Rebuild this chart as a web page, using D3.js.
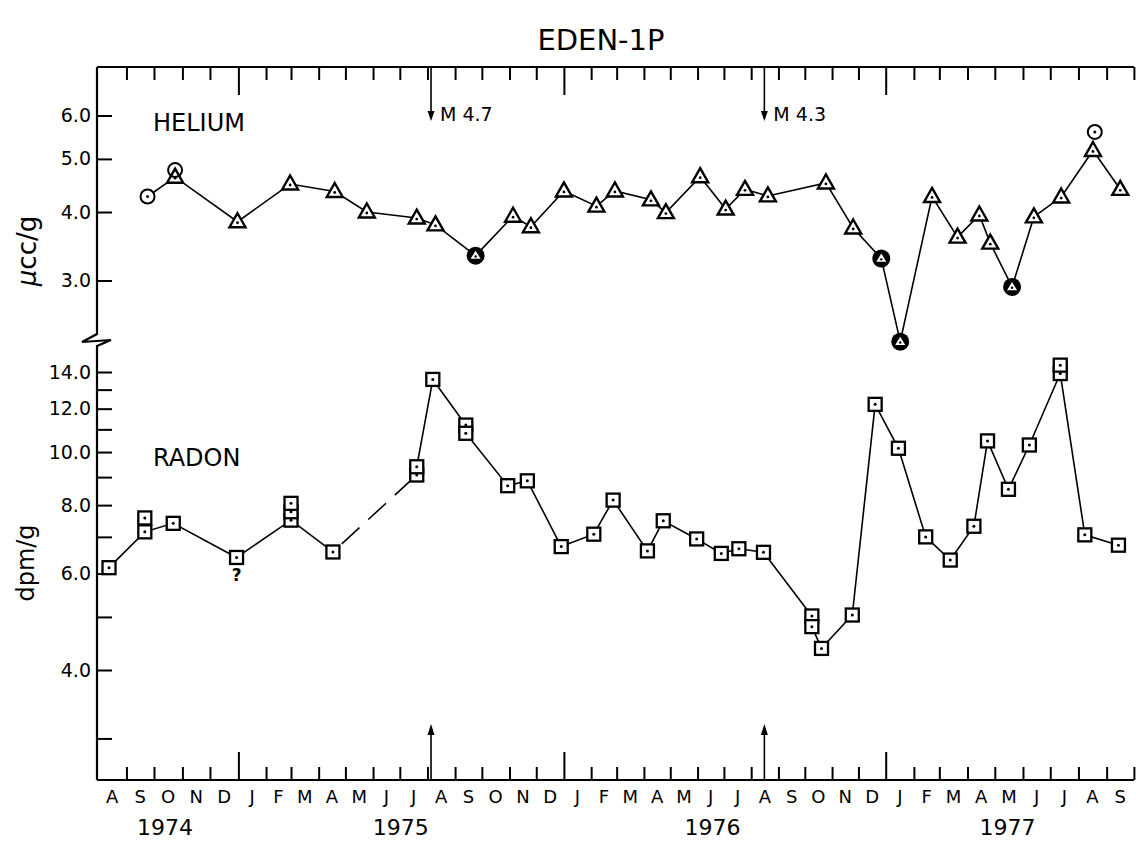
<!DOCTYPE html>
<html><head><meta charset="utf-8">
<script src="https://cdn.jsdelivr.net/npm/d3@7"></script>
<style>
body{margin:0;background:#fff}
svg{display:block}
text{font-family:"DejaVu Sans","Liberation Sans",sans-serif;fill:#000}
</style>
</head><body>
<svg id="c" width="1136" height="842"></svg>
<script>
// ---------------- data ----------------
const monthLetters = ["A","S","O","N","D","J","F","M","A","M","J","J","A","S","O","N","D","J","F","M","A","M","J","J","A","S","O","N","D","J","F","M","A","M","J","J","A","S"];
const yearLabels = ["1974","1975","1976","1977"];
const yearLabelDates = ["1974-10-13","1975-07-02","1976-06-18","1977-05-15"];
const heliumTicks = [3,4,5,6];
const radonTicks = [4,6,8,10,12,14];
const radonMinorTicks = [3,5,7,9,11,13];

const heliumDates = ["1974-09-24","1974-10-24","1974-12-31","1975-02-28","1975-04-19","1975-05-25","1975-07-20","1975-08-10","1975-09-24","1975-11-05","1975-11-25","1976-01-01","1976-02-07","1976-02-28","1976-04-09","1976-04-26","1976-06-04","1976-07-03","1976-07-25","1976-08-20","1976-10-25","1976-11-25","1976-12-27","1977-01-17","1977-02-21","1977-03-21","1977-04-14","1977-04-26","1977-05-20","1977-06-13","1977-07-13","1977-08-17","1977-09-16"];
const heliumValues = [4.27,4.63,3.84,4.50,4.36,4.00,3.90,3.79,3.33,3.93,3.76,4.37,4.10,4.37,4.21,3.99,4.64,4.05,4.40,4.28,4.52,3.74,3.29,2.32,4.27,3.60,3.95,3.51,2.92,3.92,4.26,5.18,4.40];
// c = open circle with dot, t = triangle, f = filled circle with triangle
const heliumMarkers = ["c","t","t","t","t","t","t","t","f","t","t","t","t","t","t","t","t","t","t","t","t","t","f","f","t","t","t","t","f","t","t","t","t"];
const heliumCircleDates = ["1974-10-24","1977-08-19"];
const heliumCircleValues = [4.77,5.60];

const radonDates = ["1974-08-13","1974-09-21","1974-09-21","1974-10-22","1974-12-30","1975-03-01","1975-03-01","1975-03-01","1975-04-17","1975-07-20","1975-07-20","1975-08-07","1975-09-13","1975-09-13","1975-10-30","1975-11-21","1975-12-29","1976-02-04","1976-02-26","1976-04-05","1976-04-23","1976-05-31","1976-06-28","1976-07-18","1976-08-15","1976-10-09","1976-10-09","1976-10-20","1976-11-24","1976-12-20","1977-01-15","1977-02-14","1977-03-13","1977-04-08","1977-04-23","1977-05-16","1977-06-08","1977-07-12","1977-07-12","1977-08-08","1977-09-14"];
const radonValues = [6.15,7.15,7.58,7.41,6.42,7.51,7.78,8.06,6.57,9.08,9.40,13.57,11.20,10.82,8.68,8.86,6.72,7.08,8.17,6.60,7.49,6.94,6.53,6.66,6.56,5.02,4.80,4.38,5.04,12.22,10.16,7.00,6.35,7.32,10.48,8.55,10.30,13.91,14.41,7.06,6.76];
const radonSolidA = [0,1,3,4,5,8];
const radonDashed = [8,9];
const radonSolidB = [10,11,12,13,14,15,16,17,18,19,20,21,22,23,24,25,26,27,28,29,30,31,32,33,34,35,36,37,39,40];
const radonQueryIndex = 4;

const quakeDates = ["1975-08-05","1976-08-16"];
const quakeLabels = ["M 4.7","M 4.3"];

// ---------------- layout ----------------
const parse = d3.timeParse("%Y-%m-%d");
const svg = d3.select("#c");
const AX = 97, TOP = 67, BOT = 780, BREAK = 340;

const x = d3.scaleTime()
  .domain([new Date(1974,7,1), new Date(1975,0,1), new Date(1976,0,1), new Date(1977,0,1), new Date(1977,9,1)])
  .range([98, 238.4, 563.9, 885.7, 1133.9]);
const yHe = d3.scaleLog().domain([3,6]).range([280.5,115.5]);
const yRn = d3.scaleLog().domain([4,14]).range([670,372]);

// title
svg.append("text").attr("x",601).attr("y",50).attr("text-anchor","middle")
  .style("font-size","29px").text("EDEN-1P");

// month boundaries
const bounds = d3.timeMonth.range(new Date(1974,7,1), new Date(1977,9,2));
const mids = d3.pairs(bounds).map(([a,b]) => new Date((+a + +b)/2));
const xEnd = x(bounds[bounds.length-1]);

// bottom axis
const gb = svg.append("g").attr("transform",`translate(0,${BOT})`)
  .call(d3.axisBottom(x).tickValues(bounds.slice(1)).tickSize(-13).tickFormat(""));
gb.select(".domain").remove();
gb.selectAll(".tick line").attr("stroke","#000").attr("stroke-width",2)
  .attr("y2", d => (d.getMonth()===0 ? -28 : -13));
svg.append("line").attr("x1",AX).attr("x2",xEnd).attr("y1",BOT).attr("y2",BOT)
  .attr("stroke","#000").attr("stroke-width",2.2);

// top axis
const gt = svg.append("g").attr("transform",`translate(0,${TOP})`)
  .call(d3.axisTop(x).tickValues(bounds.slice(1)).tickSize(-13).tickFormat(""));
gt.select(".domain").remove();
gt.selectAll(".tick line").attr("stroke","#000").attr("stroke-width",2)
  .attr("y2", d => (d.getMonth()===0 ? 28 : 13));
svg.append("line").attr("x1",AX).attr("x2",xEnd).attr("y1",TOP).attr("y2",TOP)
  .attr("stroke","#000").attr("stroke-width",2.2);

// month letters
svg.append("g").selectAll("text").data(mids).join("text")
  .attr("x", d => x(d)).attr("y", 803).attr("text-anchor","middle")
  .style("font-size","18px").text((d,i) => monthLetters[i]);
// year labels
svg.append("g").selectAll("text").data(yearLabelDates).join("text")
  .attr("x", d => x(parse(d))).attr("y", 835).attr("text-anchor","middle")
  .style("font-size","22px").text((d,i) => yearLabels[i]);

// left axes
const fmt = d3.format(".1f");
const gh = svg.append("g").attr("transform",`translate(${AX},0)`)
  .call(d3.axisLeft(yHe).tickValues(heliumTicks).tickSize(-15).tickPadding(6).tickFormat(fmt));
gh.select(".domain").remove();
const gr = svg.append("g").attr("transform",`translate(${AX},0)`)
  .call(d3.axisLeft(yRn).tickValues(radonTicks).tickSize(-15).tickPadding(6).tickFormat(fmt));
gr.select(".domain").remove();
const grm = svg.append("g").attr("transform",`translate(${AX},0)`)
  .call(d3.axisLeft(yRn).tickValues(radonMinorTicks).tickSize(-15).tickFormat(""));
grm.select(".domain").remove();
[gh,gr,grm].forEach(g => {
  g.selectAll(".tick line").attr("stroke","#000").attr("stroke-width",2);
  g.selectAll(".tick text").style("font-size","19px").style("font-family","DejaVu Sans, sans-serif");
});

// left axis line with break
svg.append("path")
  .attr("d",`M${AX},${TOP}V${BREAK-6}L${AX-15},${BREAK+2}L${AX+14},${BREAK}L${AX},${BREAK+6}V${BOT}`)
  .attr("fill","none").attr("stroke","#000").attr("stroke-width",2.2).attr("stroke-linejoin","miter");

// axis titles
svg.append("text").attr("transform","translate(27,251) rotate(-90)")
  .attr("text-anchor","middle").attr("dominant-baseline","central").style("font-size","26px")
  .html('<tspan font-style="italic">μ</tspan>cc/g');
svg.append("text").attr("transform","translate(26,563) rotate(-90)")
  .attr("text-anchor","middle").attr("dominant-baseline","central").style("font-size","24px")
  .text("dpm/g");

// series labels
svg.append("text").attr("x",153).attr("y",131).style("font-size","24px").text("HELIUM");
svg.append("text").attr("x",153).attr("y",466).style("font-size","24px").text("RADON");

// earthquake arrows
quakeDates.forEach((d,i) => {
  const qx = x(parse(d));
  svg.append("line").attr("x1",qx).attr("x2",qx).attr("y1",TOP).attr("y2",118)
    .attr("stroke","#000").attr("stroke-width",1.6);
  svg.append("path").attr("d",`M${qx-3.5},111L${qx+3.5},111L${qx},121Z`).attr("fill","#000");
  svg.append("text").attr("x",qx+9).attr("y",121).style("font-size","19px").text(quakeLabels[i]);
  svg.append("line").attr("x1",qx).attr("x2",qx).attr("y1",BOT).attr("y2",728)
    .attr("stroke","#000").attr("stroke-width",1.6);
  svg.append("path").attr("d",`M${qx-3.5},735L${qx+3.5},735L${qx},724Z`).attr("fill","#000");
});

// helium line
const he = heliumDates.map((d,i) => ({d:parse(d), v:heliumValues[i], m:heliumMarkers[i]}));
const lineHe = d3.line().x(p => x(p.d)).y(p => yHe(p.v));
svg.append("path").attr("d", lineHe(he)).attr("fill","none").attr("stroke","#000").attr("stroke-width",1.6);

// radon lines
const rn = radonDates.map((d,i) => ({d:parse(d), v:radonValues[i]}));
const lineRn = d3.line().x(p => x(p.d)).y(p => yRn(p.v));
svg.append("path").attr("d", lineRn(radonSolidA.map(i => rn[i]))).attr("fill","none").attr("stroke","#000").attr("stroke-width",1.6);
svg.append("path").attr("d", lineRn(radonDashed.map(i => rn[i]))).attr("fill","none").attr("stroke","#000").attr("stroke-width",1.6).attr("stroke-dasharray","24,12").attr("stroke-dashoffset",-12);
svg.append("path").attr("d", lineRn(radonSolidB.map(i => rn[i]))).attr("fill","none").attr("stroke","#000").attr("stroke-width",1.6);

// helium markers
const triPath = "M0,-8.5L8,5.5L-8,5.5Z";
const hm = svg.append("g");
he.forEach(p => {
  const g = hm.append("g").attr("transform",`translate(${x(p.d)},${yHe(p.v)})`);
  if (p.m === "t") {
    g.append("path").attr("d",triPath).attr("fill","#fff").attr("stroke","#000").attr("stroke-width",2.4).attr("stroke-linejoin","miter");
    g.append("circle").attr("cy",1).attr("r",1.4).attr("fill","#000");
  } else if (p.m === "c") {
    g.append("circle").attr("r",7).attr("fill","#fff").attr("stroke","#000").attr("stroke-width",2);
    g.append("circle").attr("r",1.5).attr("fill","#000");
  } else {
    g.append("circle").attr("r",9).attr("fill","#000");
    g.append("path").attr("d","M0,-5L5,3.2L-5,3.2Z").attr("fill","#fff");
    g.append("circle").attr("cy",0.8).attr("r",1.2).attr("fill","#000");
  }
});
heliumCircleDates.forEach((d,i) => {
  const g = hm.append("g").attr("transform",`translate(${x(parse(d))},${yHe(heliumCircleValues[i])})`);
  g.append("circle").attr("r",7).attr("fill","none").attr("stroke","#000").attr("stroke-width",2);
  g.append("circle").attr("r",1.5).attr("fill","#000");
});

// radon markers
const rm = svg.append("g");
rn.forEach(p => {
  const g = rm.append("g").attr("transform",`translate(${x(p.d)},${yRn(p.v)})`);
  g.append("rect").attr("x",-6.5).attr("y",-6.5).attr("width",13).attr("height",13)
    .attr("fill","#fff").attr("stroke","#000").attr("stroke-width",2.3);
  g.append("circle").attr("r",1.5).attr("fill","#000");
});
// question mark
const q = rn[radonQueryIndex];
svg.append("text").attr("x",x(q.d)).attr("y",yRn(q.v)+24).attr("text-anchor","middle")
  .style("font-size","17px").style("font-weight","bold").text("?");
</script>
</body></html>
